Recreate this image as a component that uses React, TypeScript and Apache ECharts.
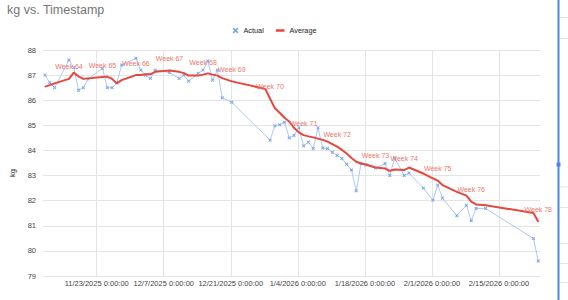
import React, { useEffect, useRef } from "react";
import * as echarts from "echarts";

// ---- data ----
const dates = [
  "2025-11-12", "2025-11-13", "2025-11-14", "2025-11-17", "2025-11-18", "2025-11-19", "2025-11-20", "2025-11-21",
  "2025-11-24", "2025-11-25", "2025-11-26", "2025-11-27", "2025-11-28",
  "2025-12-01", "2025-12-02", "2025-12-03", "2025-12-04", "2025-12-05",
  "2025-12-08", "2025-12-10", "2025-12-11", "2025-12-12", "2025-12-14",
  "2025-12-15", "2025-12-16", "2025-12-17", "2025-12-18", "2025-12-19", "2025-12-21",
  "2025-12-28", "2025-12-29", "2025-12-30", "2025-12-31", "2026-01-01", "2026-01-02", "2026-01-03", "2026-01-04",
  "2026-01-05", "2026-01-06", "2026-01-07", "2026-01-08", "2026-01-09", "2026-01-10", "2026-01-11",
  "2026-01-12", "2026-01-13", "2026-01-14", "2026-01-15", "2026-01-16", "2026-01-17", "2026-01-18",
  "2026-01-20", "2026-01-22", "2026-01-23", "2026-01-24",
  "2026-01-26", "2026-01-27", "2026-01-30", "2026-02-01",
  "2026-02-02", "2026-02-03", "2026-02-06", "2026-02-08",
  "2026-02-09", "2026-02-10", "2026-02-12",
  "2026-02-22", "2026-02-23",
];

const actualKg: (number | null)[] = [
  87.0, 86.7, 86.5, 87.6, 87.3, 86.4, 86.5, 86.85,
  87.27, 86.5, 86.5, 86.7, 87.4,
  87.67, 87.2, 87.0, 86.87, 87.2,
  87.1, 86.87, 87.0, 86.76, 87.07,
  87.2, 87.56, 86.8, 87.2, 86.1, 85.92,
  null, 84.41, 84.98, 85.02, 85.12, 84.5, 84.6, 84.9,
  84.18, 84.33, 84.08, 84.9, 84.1, 84.08, 83.93,
  83.8, 83.68, 83.45, 83.22, 82.39, 83.48, 83.42,
  83.3, 83.48, 83.0, 83.7,
  83.0, 83.1, 82.5, 82.02,
  82.62, 82.1, 81.4, 81.82,
  81.2, 81.69, 81.69,
  80.49, 79.6,
];

const averageKg = [
  86.54, 86.6, 86.67, 86.85, 87.1, 86.95, 86.85, 86.87,
  86.92, 86.94, 86.85, 86.67, 86.8,
  87.0, 87.0, 87.03, 87.03, 87.13,
  87.18, 87.13, 87.08, 86.98, 86.98,
  87.02, 87.07, 87.02, 86.98, 86.88, 86.75,
  86.45, 86.06, 85.68, 85.5, 85.3, 85.15, 84.9, 84.72,
  84.61, 84.56, 84.52, 84.47, 84.42, 84.35, 84.25,
  84.15, 84.02, 83.88, 83.7, 83.55, 83.48, 83.44,
  83.32, 83.28, 83.19, 83.24,
  83.22, 83.32, 83.08, 82.89,
  82.8, 82.62, 82.35, 82.2,
  81.96, 81.85, 81.82,
  81.51, 81.16,
];

const weekLabels: [string, string][] = [
  ["2025-11-17", "Week 64"],
  ["2025-11-24", "Week 65"],
  ["2025-12-01", "Week 66"],
  ["2025-12-08", "Week 67"],
  ["2025-12-15", "Week 68"],
  ["2025-12-21", "Week 69"],
  ["2025-12-29", "Week 70"],
  ["2026-01-05", "Week 71"],
  ["2026-01-12", "Week 72"],
  ["2026-01-20", "Week 73"],
  ["2026-01-26", "Week 74"],
  ["2026-02-02", "Week 75"],
  ["2026-02-09", "Week 76"],
  ["2026-02-23", "Week 78"],
];

const xTickDates = [
  "2025-11-23", "2025-12-07", "2025-12-21", "2026-01-04", "2026-01-18", "2026-02-01", "2026-02-15",
];

const Y_MIN = 79;
const Y_MAX = 88;
const Y_STEP = 1;

// ---- helpers ----
const DAY = 86400000;
const WEIGH_IN_TIME = 5 * 3600000; // timestamps are taken early morning
const toMs = (s: string) => {
  const [y, m, d] = s.split("-").map(Number);
  return Date.UTC(y, m - 1, d);
};
const fmtTick = (v: number) => {
  const d = new Date(v);
  return `${d.getUTCMonth() + 1}/${d.getUTCDate()}/${d.getUTCFullYear()} 0:00:00`;
};

const FONT = "'Liberation Sans', Arial, sans-serif";
const CROSS = "path://M2,0L5,3L8,0L10,2L7,5L10,8L8,10L5,7L2,10L0,8L3,5L0,2Z";

export default function App() {
  const ref = useRef<HTMLDivElement>(null);

  useEffect(() => {
    if (!ref.current) return;
    const chart = echarts.init(ref.current, undefined, { renderer: "svg" });

    const labelMap = new Map(weekLabels.map(([d, t]) => [d, t]));

    const actualData = dates.map((d, i) => [toMs(d) + WEIGH_IN_TIME, actualKg[i]]);
    const averageData = dates.map((d, i) => {
      const txt = labelMap.get(d);
      const item: any = { value: [toMs(d) + WEIGH_IN_TIME, averageKg[i]] };
      if (txt) item.label = { show: true, formatter: txt };
      return item;
    });

    const tickValues = xTickDates.map(toMs);

    const rowMarks = [17, 38, 186.5, 207, 243, 263, 282];

    chart.setOption({
      animation: false,
      backgroundColor: "#ffffff",
      textStyle: { fontFamily: FONT },
      title: {
        text: "kg vs. Timestamp",
        left: 7,
        top: 3,
        padding: 0,
        textStyle: { fontSize: 12.5, color: "#757575", fontWeight: "normal", fontFamily: FONT },
      },
      legend: [
        {
          data: [{ name: "Actual", icon: CROSS }],
          left: 232.5,
          top: 27,
          padding: 0,
          itemWidth: 6,
          itemHeight: 6,
          textStyle: { fontSize: 7.3, color: "#222", fontFamily: FONT },
          selectedMode: false,
        },
        {
          data: [{ name: "Average", icon: "rect" }],
          left: 276,
          top: 27,
          padding: 0,
          itemWidth: 8.5,
          itemHeight: 2.5,
          textStyle: { fontSize: 7.3, color: "#222", fontFamily: FONT },
          selectedMode: false,
        },
      ],
      grid: { left: 43, top: 50, width: 497, height: 226, containLabel: false },
      xAxis: {
        type: "value",
        min: toMs("2025-11-12") - 0.21 * DAY,
        max: toMs("2026-02-23") + 0.57 * DAY,
        axisLine: { show: false },
        axisTick: { show: false, customValues: tickValues },
        axisLabel: {
          customValues: tickValues,
          formatter: (v: number) => fmtTick(v),
          fontSize: 7.5,
          color: "#444",
          margin: 3,
          fontFamily: FONT,
        },
        splitLine: { show: true, lineStyle: { color: "#e4e4e4", width: 1 } },
      },
      yAxis: {
        type: "value",
        min: Y_MIN,
        max: Y_MAX,
        interval: Y_STEP,
        axisLine: { show: false },
        axisTick: { show: false },
        axisLabel: { fontSize: 7.5, color: "#444", margin: 7, fontFamily: FONT },
        splitLine: { show: true, lineStyle: { color: "#e4e4e4", width: 1 } },
      },
      series: [
        {
          name: "Actual",
          type: "line",
          data: actualData,
          connectNulls: true,
          symbol: CROSS,
          symbolSize: 3.5,
          itemStyle: { color: "#7aa7f2" },
          lineStyle: { color: "#aac8f8", width: 1 },
          z: 2,
        },
        {
          name: "Average",
          type: "line",
          data: averageData,
          symbol: "circle",
          symbolSize: 1,
          itemStyle: { color: "#e8473d" },
          lineStyle: { color: "#e8473d", width: 2 },
          label: {
            show: false,
            position: "top",
            distance: 8,
            fontSize: 7,
            color: "#f0766b",
            fontFamily: FONT,
          },
          z: 3,
        },
      ],
      graphic: [
        {
          type: "text",
          x: 12,
          y: 173,
          rotation: Math.PI / 2,
          style: {
            text: "kg",
            fontSize: 7.5,
            fill: "#222",
            fontFamily: FONT,
            align: "center",
            verticalAlign: "middle",
          },
        },
        ...rowMarks.map((y) => ({
          type: "rect",
          shape: { x: 560, y, width: 8, height: 1 },
          style: { fill: "#e3e3e3" },
        })),
        {
          type: "rect",
          shape: { x: 557.5, y: 0, width: 2, height: 300 },
          style: { fill: "#4a86e8" },
        },
        {
          type: "rect",
          shape: { x: 556.5, y: 162.5, width: 4, height: 4 },
          style: { fill: "#4a86e8" },
        },
      ],
    });

    return () => chart.dispose();
  }, []);

  return (
    <div
      ref={ref}
      style={{ position: "fixed", left: 0, top: 0, width: 568, height: 300 }}
    />
  );
}
